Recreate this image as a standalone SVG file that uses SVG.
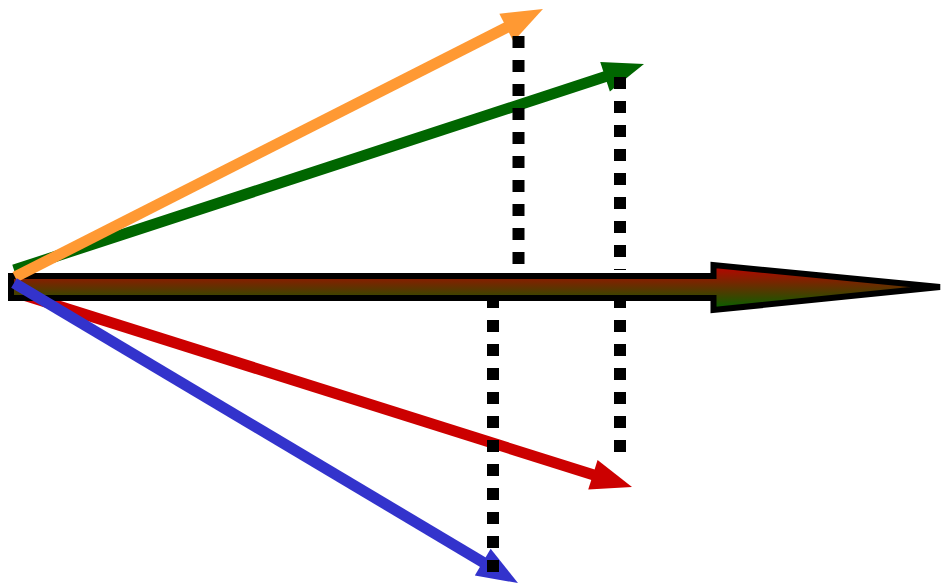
<svg xmlns="http://www.w3.org/2000/svg" width="942" height="585" viewBox="0 0 942 585">
  <style>
    .vec { fill: none; stroke-width: 11; stroke-linecap: butt; }
    .dots { fill: none; stroke: #000000; stroke-width: 12; stroke-dasharray: 12 12; stroke-linecap: butt; }
  </style>
  <defs>
    <linearGradient id="axisGrad" x1="0" y1="0" x2="0" y2="1">
      <stop offset="0" stop-color="#c00000"/>
      <stop offset="1" stop-color="#006400"/>
    </linearGradient>
    <marker id="mOrange" markerUnits="userSpaceOnUse" markerWidth="41" markerHeight="31" refX="11" refY="15.5" orient="auto" overflow="visible">
      <path d="M0,0 L41,15.5 L0,31 Z" fill="#ff9933"/>
    </marker>
    <marker id="mGreen" markerUnits="userSpaceOnUse" markerWidth="41" markerHeight="31" refX="11" refY="15.5" orient="auto" overflow="visible">
      <path d="M0,0 L41,15.5 L0,31 Z" fill="#006600"/>
    </marker>
    <marker id="mRed" markerUnits="userSpaceOnUse" markerWidth="41" markerHeight="31" refX="11" refY="15.5" orient="auto" overflow="visible">
      <path d="M0,0 L41,15.5 L0,31 Z" fill="#cc0000"/>
    </marker>
    <marker id="mBlue" markerUnits="userSpaceOnUse" markerWidth="41" markerHeight="31" refX="11" refY="15.5" orient="auto" overflow="visible">
      <path d="M0,0 L41,15.5 L0,31 Z" fill="#3333cc"/>
    </marker>
  </defs>
  <rect width="942" height="585" fill="#ffffff"/>
  <g id="connectors">
    <path id="red-vector" class="vec" stroke="#cc0000" d="M14,292 L603.4,478" marker-end="url(#mRed)"/>
    <path id="axis" d="M11,276 L713.5,276 L713.5,265 L940,287 L713.5,310 L713.5,298 L11,298 Z" fill="url(#axisGrad)" stroke="#000000" stroke-width="6" stroke-linejoin="miter"/>
    <path id="green-vector" class="vec" stroke="#006600" d="M14,270 L615.5,73.3" marker-end="url(#mGreen)"/>
    <path id="orange-vector" class="vec" stroke="#ff9933" d="M15,277 L516.2,22.6" marker-end="url(#mOrange)"/>
    <path id="blue-vector" class="vec" stroke="#3333cc" d="M14,283 L492.2,567.7" marker-end="url(#mBlue)"/>
    <path id="proj-orange" class="dots" d="M518.5,36 V264"/>
    <path id="proj-green" class="dots" d="M620,77 V270"/>
    <path id="proj-blue" class="dots" d="M493,296 V572"/>
    <path id="proj-red" class="dots" d="M620,296 V452"/>
  </g>
</svg>
